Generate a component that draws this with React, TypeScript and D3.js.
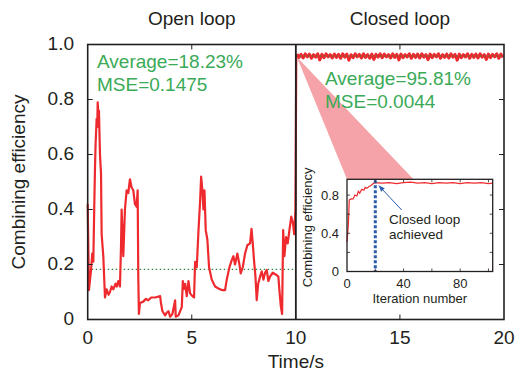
import React, { useEffect, useRef } from 'react';
import * as d3 from 'd3';

// open loop trace (time in s, efficiency)
const openT = [0, 0.06, 0.16, 0.22, 0.27, 0.32, 0.35, 0.38, 0.43, 0.46, 0.48, 0.51, 0.54, 0.59, 0.64, 0.67, 0.75, 0.83, 0.91, 1.0, 1.07, 1.15, 1.23, 1.34, 1.40, 1.47, 1.55, 1.60, 1.63, 1.71, 1.79, 1.87, 1.95, 2.03, 2.11, 2.19, 2.27, 2.35, 2.40, 2.43, 2.46, 2.51, 2.67, 2.80, 2.91, 3.05, 3.24, 3.48, 3.52, 3.59, 3.72, 3.80, 3.88, 3.96, 4.07, 4.20, 4.23, 4.36, 4.52, 4.57, 4.61, 4.68, 4.76, 4.84, 4.92, 5.03, 5.11, 5.16, 5.24, 5.32, 5.40, 5.45, 5.51, 5.56, 5.61, 5.67, 5.75, 5.83, 5.96, 6.12, 6.28, 6.44, 6.60, 6.68, 6.81, 6.92, 7.00, 7.08, 7.19, 7.29, 7.35, 7.45, 7.56, 7.67, 7.80, 7.87, 7.93, 7.99, 8.06, 8.12, 8.19, 8.28, 8.36, 8.44, 8.52, 8.60, 8.68, 8.76, 8.89, 9.05, 9.16, 9.21, 9.28, 9.34, 9.39, 9.45, 9.53, 9.61, 9.69, 9.78, 9.86, 9.92, 9.98, 10.02];
const openV = [0.42, 0.107, 0.18, 0.24, 0.21, 0.43, 0.55, 0.64, 0.73, 0.70, 0.79, 0.74, 0.76, 0.60, 0.53, 0.31, 0.23, 0.08, 0.11, 0.09, 0.10, 0.12, 0.11, 0.13, 0.12, 0.14, 0.12, 0.265, 0.40, 0.23, 0.40, 0.47, 0.46, 0.51, 0.48, 0.47, 0.42, 0.41, 0.47, 0.155, 0.02, 0.06, 0.065, 0.075, 0.07, 0.08, 0.08, 0.085, 0.06, 0.03, 0.015, 0.025, 0.03, 0.01, 0.02, 0.07, 0.01, 0.015, 0.045, 0.14, 0.11, 0.13, 0.085, 0.14, 0.095, 0.085, 0.08, 0.21, 0.19, 0.32, 0.43, 0.52, 0.47, 0.40, 0.47, 0.325, 0.29, 0.19, 0.145, 0.12, 0.113, 0.107, 0.107, 0.145, 0.19, 0.216, 0.23, 0.20, 0.24, 0.20, 0.168, 0.19, 0.24, 0.27, 0.277, 0.33, 0.277, 0.216, 0.156, 0.07, 0.13, 0.156, 0.175, 0.145, 0.17, 0.18, 0.14, 0.156, 0.17, 0.163, 0.156, 0.107, 0.047, 0.02, 0.325, 0.23, 0.30, 0.277, 0.325, 0.374, 0.35, 0.31, 0.40, 0.965];

// closed loop trace, sampled every 0.1 s from 10.05 s
const closedV = [
    0.965, 0.953, 0.964, 0.951, 0.966, 0.955, 0.965, 0.950, 0.963, 0.954,
    0.966, 0.944, 0.964, 0.952, 0.966, 0.955, 0.963, 0.951, 0.965, 0.953,
    0.964, 0.950, 0.966, 0.954, 0.965, 0.943, 0.963, 0.952, 0.966, 0.955,
    0.964, 0.951, 0.966, 0.953, 0.963, 0.950, 0.965, 0.946, 0.964, 0.954,
    0.966, 0.952, 0.965, 0.955, 0.963, 0.951, 0.966, 0.953, 0.964, 0.944,
    0.965, 0.952, 0.963, 0.955, 0.966, 0.950, 0.964, 0.953, 0.965, 0.951,
    0.966, 0.954, 0.963, 0.945, 0.965, 0.952, 0.964, 0.955, 0.966, 0.950,
    0.963, 0.953, 0.965, 0.951, 0.966, 0.954, 0.964, 0.943, 0.965, 0.952,
    0.963, 0.955, 0.966, 0.950, 0.964, 0.953, 0.965, 0.951, 0.966, 0.954,
    0.963, 0.946, 0.965, 0.952, 0.964, 0.955, 0.966, 0.950, 0.965, 0.953,
];

// inset: efficiency vs iteration
const iterX = [0, 1, 1.6, 3, 4.4, 5.5, 7, 8, 9, 10.5, 12, 12.8, 14, 15.5, 17, 18.5, 20, 25, 30, 35, 40, 45, 50, 55, 60, 65, 70, 75, 80, 85, 90, 95, 100, 103];
const iterV = [0.31, 0.5, 0.75, 0.76, 0.76, 0.80, 0.79, 0.84, 0.82, 0.86, 0.85, 0.88, 0.87, 0.89, 0.90, 0.92, 0.93, 0.925, 0.93, 0.92, 0.93, 0.935, 0.925, 0.93, 0.92, 0.93, 0.925, 0.93, 0.92, 0.93, 0.925, 0.93, 0.92, 0.925];

const xTicks = [0, 5, 10, 15, 20];
const yTicks = [0, 0.2, 0.4, 0.6, 0.8, 1.0];
const insetXTicks = [0, 40, 80];
const insetYTicks = [0, 0.4, 0.8];
const openAvg = 0.1823;
const closedAvg = 0.9581;
const closedLoopIter = 20;

const RED = '#ee2a2e';
const GREEN = '#3aaa57';
const BLUE = '#2a5caa';
const INK = '#231f20';
const FONT = '"Liberation Sans", Arial, sans-serif';

const App = () => {
    const svgRef = useRef(null);

    useEffect(() => {
        const width = 515;
        const height = 374;

        d3.select(svgRef.current).selectAll('*').remove();

        const svg = d3.select(svgRef.current)
            .attr('width', width)
            .attr('height', height)
            .style('font-family', FONT);

        // main scales
        const x = d3.scaleLinear().domain([0, 20]).range([87.7, 504]);
        const y = d3.scaleLinear().domain([0, 1]).range([319.5, 44.5]);

        // inset scales
        const ix = d3.scaleLinear().domain([0, 103]).range([347, 492.7]);
        const iy = d3.scaleLinear().domain([0, 0.965]).range([271.5, 179.3]);

        // pink zoom wedge (behind everything)
        svg.append('path')
            .attr('d', `M${x(10) + 1},${y(0.955)} L${ix(0)},${iy.range()[1]} L${ix(47)},${iy.range()[1]} Z`)
            .attr('fill', '#f5a3a8');

        // average lines
        svg.append('line')
            .attr('x1', x(0)).attr('x2', x(10))
            .attr('y1', y(openAvg)).attr('y2', y(openAvg))
            .attr('stroke', '#2e8b45').attr('stroke-width', 1.2)
            .attr('stroke-dasharray', '1.5,2.5');

        // open loop trace
        const line = d3.line<number>()
            .x((_, i) => x(openT[i]))
            .y(d => y(d));
        svg.append('path')
            .attr('d', line(openV))
            .attr('fill', 'none')
            .attr('stroke', RED)
            .attr('stroke-width', 2.2)
            .attr('stroke-linejoin', 'round');

        // closed loop trace
        const closedT = closedV.map((_, i) => 10.05 + i * 0.1);
        const cline = d3.line<number>()
            .x((_, i) => x(closedT[i]))
            .y(d => y(d));
        svg.append('path')
            .attr('d', cline(closedV))
            .attr('fill', 'none')
            .attr('stroke', RED)
            .attr('stroke-width', 3)
            .attr('stroke-linejoin', 'round');

        svg.append('line')
            .attr('x1', x(10)).attr('x2', x(20))
            .attr('y1', y(closedAvg)).attr('y2', y(closedAvg))
            .attr('stroke', '#2e8b45').attr('stroke-width', 1.2)
            .attr('stroke-dasharray', '1.5,2.5');

        // frame and divider
        svg.append('rect')
            .attr('x', x(0)).attr('y', y(1))
            .attr('width', x(20) - x(0)).attr('height', y(0) - y(1))
            .attr('fill', 'none').attr('stroke', INK).attr('stroke-width', 1.6);
        svg.append('line')
            .attr('x1', x(10)).attr('x2', x(10))
            .attr('y1', y(1)).attr('y2', y(0))
            .attr('stroke', INK).attr('stroke-width', 1.8);

        // inner ticks
        [5, 15].forEach(t => {
            svg.append('line').attr('x1', x(t)).attr('x2', x(t))
                .attr('y1', y(0)).attr('y2', y(0) - 5).attr('stroke', INK).attr('stroke-width', 1);
            svg.append('line').attr('x1', x(t)).attr('x2', x(t))
                .attr('y1', y(1)).attr('y2', y(1) + 5).attr('stroke', INK).attr('stroke-width', 1);
        });
        [0.2, 0.4, 0.6, 0.8].forEach(v => {
            svg.append('line').attr('x1', x(0)).attr('x2', x(0) + 5)
                .attr('y1', y(v)).attr('y2', y(v)).attr('stroke', INK).attr('stroke-width', 1);
            svg.append('line').attr('x1', x(20)).attr('x2', x(20) - 5)
                .attr('y1', y(v)).attr('y2', y(v)).attr('stroke', INK).attr('stroke-width', 1);
        });

        // tick labels
        svg.append('g').selectAll('text')
            .data(xTicks).join('text')
            .attr('x', d => x(d)).attr('y', 344)
            .attr('text-anchor', 'middle')
            .attr('font-size', 19).attr('fill', INK)
            .text(d => d);
        svg.append('g').selectAll('text')
            .data(yTicks).join('text')
            .attr('x', 74).attr('y', d => y(d) + 5)
            .attr('text-anchor', 'end')
            .attr('font-size', 19).attr('fill', INK)
            .text(d => (d === 0 ? '0' : d3.format('.1f')(d)));

        // axis titles and panel titles
        svg.append('text')
            .attr('x', x(10)).attr('y', 368)
            .attr('text-anchor', 'middle').attr('font-size', 19).attr('fill', INK)
            .text('Time/s');
        svg.append('text')
            .attr('transform', `translate(25,${(y(0) + y(1)) / 2}) rotate(-90)`)
            .attr('text-anchor', 'middle').attr('font-size', 19).attr('fill', INK)
            .text('Combining efficiency');
        svg.append('text')
            .attr('x', x(5)).attr('y', 25)
            .attr('text-anchor', 'middle').attr('font-size', 19).attr('fill', INK)
            .text('Open loop');
        svg.append('text')
            .attr('x', x(15)).attr('y', 25)
            .attr('text-anchor', 'middle').attr('font-size', 19).attr('fill', INK)
            .text('Closed loop');

        // stats text
        const stats = [
            { x: 97, y: 68, t: 'Average=18.23%' },
            { x: 97, y: 91, t: 'MSE=0.1475' },
            { x: 325, y: 85, t: 'Average=95.81%' },
            { x: 325, y: 108, t: 'MSE=0.0044' },
        ];
        svg.append('g').selectAll('text')
            .data(stats).join('text')
            .attr('x', d => d.x).attr('y', d => d.y)
            .attr('font-size', 19).attr('fill', GREEN)
            .text(d => d.t);

        // ---- inset ----
        const inset = svg.append('g');
        inset.append('rect')
            .attr('x', ix(0)).attr('y', iy.range()[1])
            .attr('width', ix.range()[1] - ix(0)).attr('height', iy(0) - iy.range()[1])
            .attr('fill', 'white');

        const iline = d3.line<number>()
            .x((_, i) => ix(iterX[i]))
            .y(d => iy(d));
        inset.append('path')
            .attr('d', iline(iterV))
            .attr('fill', 'none').attr('stroke', RED).attr('stroke-width', 1.2);

        inset.append('line')
            .attr('x1', ix(closedLoopIter)).attr('x2', ix(closedLoopIter))
            .attr('y1', iy.range()[1] + 1).attr('y2', iy(0))
            .attr('stroke', BLUE).attr('stroke-width', 3)
            .attr('stroke-dasharray', '3,2');

        inset.append('rect')
            .attr('x', ix(0)).attr('y', iy.range()[1])
            .attr('width', ix.range()[1] - ix(0)).attr('height', iy(0) - iy.range()[1])
            .attr('fill', 'none').attr('stroke', INK).attr('stroke-width', 1.3);

        [20, 40, 60, 80, 100].forEach(t => {
            inset.append('line').attr('x1', ix(t)).attr('x2', ix(t))
                .attr('y1', iy(0)).attr('y2', iy(0) - 3).attr('stroke', INK).attr('stroke-width', 0.8);
            inset.append('line').attr('x1', ix(t)).attr('x2', ix(t))
                .attr('y1', iy.range()[1]).attr('y2', iy.range()[1] + 3).attr('stroke', INK).attr('stroke-width', 0.8);
        });
        [0.2, 0.4, 0.6, 0.8].forEach(v => {
            inset.append('line').attr('x1', ix(0)).attr('x2', ix(0) + 3)
                .attr('y1', iy(v)).attr('y2', iy(v)).attr('stroke', INK).attr('stroke-width', 0.8);
            inset.append('line').attr('x1', ix.range()[1]).attr('x2', ix.range()[1] - 3)
                .attr('y1', iy(v)).attr('y2', iy(v)).attr('stroke', INK).attr('stroke-width', 0.8);
        });

        inset.append('g').selectAll('text')
            .data(insetXTicks).join('text')
            .attr('x', d => ix(d)).attr('y', 287.5)
            .attr('text-anchor', 'middle').attr('font-size', 13).attr('fill', INK)
            .text(d => d);
        inset.append('g').selectAll('text')
            .data(insetYTicks).join('text')
            .attr('x', 339).attr('y', d => iy(d) + 4.5)
            .attr('text-anchor', 'end').attr('font-size', 13).attr('fill', INK)
            .text(d => d);
        inset.append('text')
            .attr('x', (ix(0) + ix.range()[1]) / 2).attr('y', 303)
            .attr('text-anchor', 'middle').attr('font-size', 13).attr('fill', INK)
            .text('Iteration number');
        inset.append('text')
            .attr('transform', `translate(312,${(iy(0) + iy.range()[1]) / 2 + 2}) rotate(-90)`)
            .attr('text-anchor', 'middle').attr('font-size', 13).attr('fill', INK)
            .text('Combining efficiency');

        // annotation arrow
        const tip = [ix(closedLoopIter) + 3.5, iy(0.92) + 2];
        const tail = [401.7, 210];
        inset.append('line')
            .attr('x1', tail[0]).attr('y1', tail[1])
            .attr('x2', tip[0]).attr('y2', tip[1])
            .attr('stroke', BLUE).attr('stroke-width', 1);
        const ang = Math.atan2(tip[1] - tail[1], tip[0] - tail[0]);
        const ah = 6, aw = 2.5;
        const bx = tip[0] - ah * Math.cos(ang), by = tip[1] - ah * Math.sin(ang);
        inset.append('path')
            .attr('d', `M${tip[0]},${tip[1]} L${bx + aw * Math.sin(ang)},${by - aw * Math.cos(ang)} L${bx - aw * Math.sin(ang)},${by + aw * Math.cos(ang)} Z`)
            .attr('fill', BLUE);

        inset.append('text')
            .attr('x', 389).attr('y', 223.5)
            .attr('font-size', 13.5).attr('fill', INK)
            .text('Closed loop');
        inset.append('text')
            .attr('x', 389).attr('y', 238.5)
            .attr('font-size', 13.5).attr('fill', INK)
            .text('achieved');
    }, []);

    return (
        <svg ref={svgRef} style={{ position: 'absolute', left: 0, top: 0, background: 'white' }}></svg>
    );
};

export default App;
